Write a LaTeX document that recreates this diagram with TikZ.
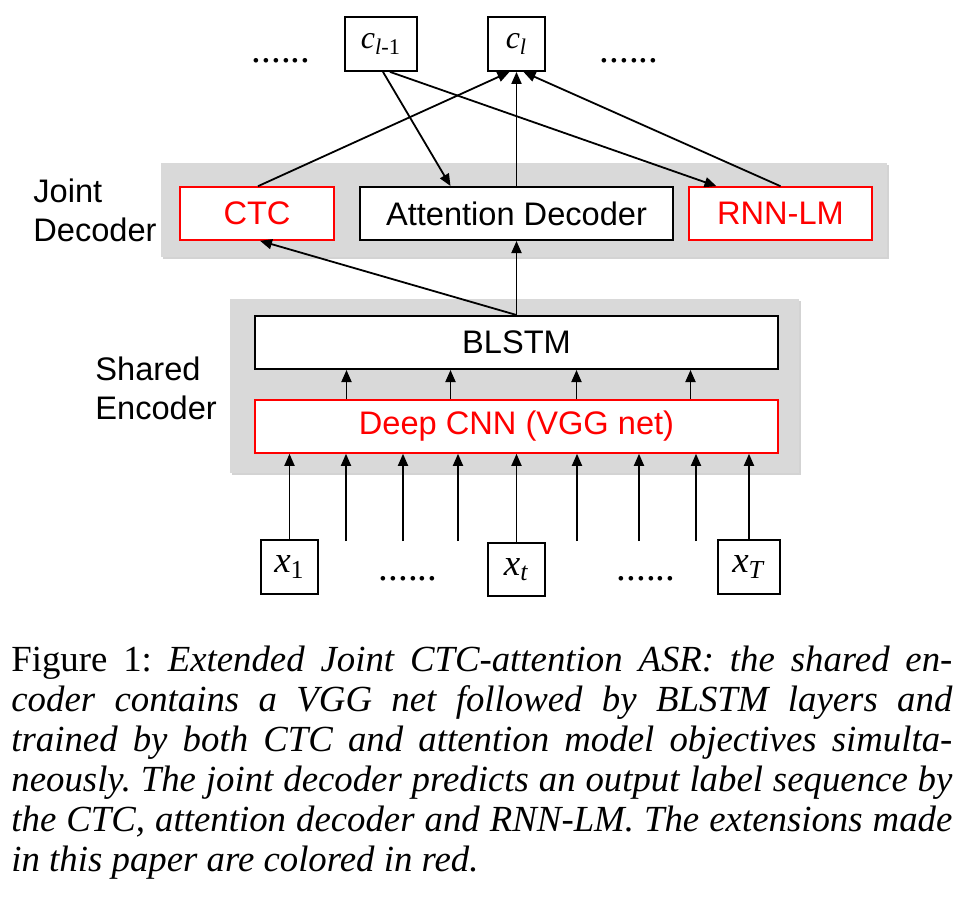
\documentclass[tikz,border=0pt]{standalone}
\usepackage{fontspec}
\setmainfont{Liberation Sans}
\newfontfamily\capfont{Liberation Serif}
\usetikzlibrary{positioning,arrows.meta,calc,shadows}
\newcommand{\dfont}{\fontsize{16.3}{19.5}\selectfont}
\newcommand{\vsym}[2]{{\capfont\itshape #1}\textsubscript{\capfont #2}}
\tikzset{
  fig/.style={x=0.5pt,y=-0.5pt},
  box/.style={draw,line width=1pt,fill=white,inner sep=0pt,font=\dfont},
  redbox/.style={box,draw=red,line width=0.8pt,text=red},
  varbox/.style={draw,line width=0.9pt,fill=white,inner sep=0pt,
                 font=\fontsize{18.5}{20}\selectfont},
  panel/.style={fill=gray!30,inner sep=0pt,
                drop shadow={shadow xshift=1.2pt,shadow yshift=-1.2pt,opacity=0.35}},
  ln/.style={-{Triangle[length=6pt,width=5pt]},line width=0.9pt},
  lbl/.style={font=\dfont,align=left,inner sep=0pt},
  dots/.style={font=\capfont\fontsize{19.5}{20}\selectfont,inner sep=0pt,anchor=base},
}

\begin{document}
\begin{tikzpicture}[fig]
\useasboundingbox (0,0) rectangle (971,905);

% grey panels
\node[panel,minimum width=363pt,minimum height=47pt] (jdec) at (524,210) {};
\node[panel,minimum width=284.5pt,minimum height=87pt] (senc) at (514.5,386) {};
\node[lbl,anchor=north west] (jdlbl) at (33,178) {Joint\\Decoder};
\node[lbl,anchor=north west] (selbl) at (95,356) {Shared\\Encoder};

% output labels
\node[varbox,minimum width=36pt,minimum height=27pt,font=\fontsize{16}{17}\selectfont]
  (clm) at (381,44) {\vsym{c}{\textit{l}-1}};
\node[varbox,minimum width=28.5pt,minimum height=27pt,font=\fontsize{16}{17}\selectfont]
  (cl) at (516.5,44) {\vsym{c}{\textit{l}}};
\node[dots] (tdl) at (281,62) {......};
\node[dots] (tdr) at (629,62) {......};

% joint decoder
\node[redbox,minimum width=77pt,minimum height=26.5pt] (ctc) at (257,213.5) {CTC};
\node[box,minimum width=156.5pt,minimum height=26.5pt] (att) at (516.5,213.5) {Attention Decoder};
\node[redbox,minimum width=91.5pt,minimum height=26.5pt] (rnn) at (780.5,213.5) {RNN-LM};

% shared encoder
\node[box,minimum width=261.5pt,minimum height=26.5pt] (blstm) at (516.5,342.5) {BLSTM};
\node[redbox,minimum width=261.5pt,minimum height=26.5pt] (cnn) at (516.5,426.5) {Deep CNN (VGG net)};

% inputs
\node[varbox,minimum width=28.5pt,minimum height=27pt] (x1) at (289.5,567) {\vsym{x}{1}};
\node[varbox,minimum width=28.5pt,minimum height=26.5pt] (xt) at (516.5,569.5) {\vsym{x}{\textit{t}}};
\node[varbox,minimum width=31pt,minimum height=27pt] (xT) at (749,567) {\vsym{x}{\textit{T}}};
\node[dots] (bdl) at (408,580) {......};
\node[dots] (bdr) at (646,580) {......};

% decoder connections
\draw[ln] ([xshift=1pt]clm.south) -- ([xshift=-33pt]att.north);
\draw[ln] ([xshift=4.5pt]clm.south) -- ([xshift=-32pt]rnn.north);
\draw[ln] ([xshift=0.5pt]ctc.north) -- ([xshift=-3.5pt]cl.south);
\draw[ln] (att.north) -- (cl.south);
\draw[ln] (rnn.north) -- ([xshift=3.5pt]cl.south);
\draw[ln] (blstm.north) -- (att.south);
\draw[ln] (blstm.north) -- ([xshift=1.5pt]ctc.south);

% encoder connections
\foreach \d in {-85,-33,30,87}
  \draw[ln] ([xshift=\d pt]cnn.north) -- ([xshift=\d pt]blstm.south);
\foreach \x/\n in {346/a,403/b,458/c,577/d,639/e,696/f}{
  \coordinate (in\n) at (\x,541);
  \draw[ln] (in\n) -- (in\n |- cnn.south);
}
\draw[ln] (x1.north) -- (x1.north |- cnn.south);
\draw[ln] (xt.north) -- (xt.north |- cnn.south);
\draw[ln] (xT.north) -- (xT.north |- cnn.south);

% caption
\node[anchor=north west,inner sep=0pt,text width=470.5pt,align=justify,
      font=\capfont\fontsize{18.4}{20}\selectfont\frenchspacing] (cap) at (11,646)
{Figure 1: \itshape Extended Joint CTC-attention ASR: the shared en-\linebreak
coder contains a VGG net followed by BLSTM layers and\linebreak
trained by both CTC and attention model objectives simulta-\linebreak
neously. The joint decoder predicts an output label sequence by\linebreak
the CTC, attention decoder and RNN-LM. The extensions made\linebreak
in this paper are colored in red.};
\end{tikzpicture}
\end{document}
